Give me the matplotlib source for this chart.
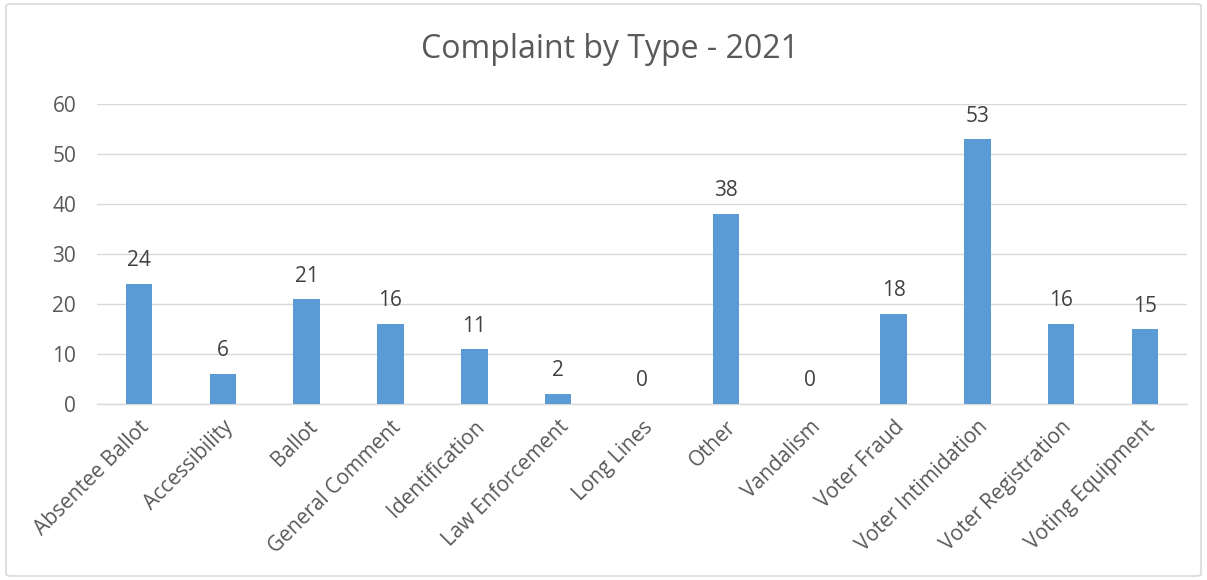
import matplotlib.pyplot as plt
from matplotlib.patches import FancyBboxPatch

categories = ["Absentee Ballot", "Accessibility", "Ballot", "General Comment",
              "Identification", "Law Enforcement", "Long Lines", "Other",
              "Vandalism", "Voter Fraud", "Voter Intimidation",
              "Voter Registration", "Voting Equipment"]
counts = [24, 6, 21, 16, 11, 2, 0, 38, 0, 18, 53, 16, 15]
y_ticks = [0, 10, 20, 30, 40, 50, 60]

plt.rcParams['font.family'] = ['Open Sans', 'DejaVu Sans']
text_color = '#595959'

fig = plt.figure(figsize=(12.07, 5.80), dpi=100)
ax = fig.add_axes([97 / 1207, 1 - 404 / 580, 1090 / 1207, 300 / 580])

# chart border
fig.patches.append(FancyBboxPatch((6 / 1207, 4 / 580), 1195 / 1207, 572 / 580,
                                  boxstyle="round,pad=0,rounding_size=0.004",
                                  transform=fig.transFigure, facecolor='none',
                                  edgecolor='#D9D9D9', linewidth=1.2))

x = range(len(categories))
bars = ax.bar(x, counts, width=0.315, color='#5B9BD5', zorder=3)

for xi, v in zip(x, counts):
    ax.annotate(str(v), (xi, v), textcoords="offset points", xytext=(0, 9),
                ha='center', va='bottom', fontsize=15, color='#404040')

ax.set_xlim(-0.5, len(categories) - 0.5)
ax.set_ylim(0, 60)
ax.set_yticks(y_ticks)
ax.set_xticks(list(x))
ax.set_xticklabels(categories, rotation=45, ha='right', rotation_mode='anchor',
                   fontsize=15, color=text_color)
ax.tick_params(axis='y', labelsize=15, labelcolor=text_color, length=0, pad=15)
ax.tick_params(axis='x', length=0, pad=9)
ax.grid(axis='y', color='#D9D9D9', linewidth=1, zorder=0)

for side in ['top', 'right', 'left']:
    ax.spines[side].set_visible(False)
ax.spines['bottom'].set_color('#D9D9D9')
ax.spines['bottom'].set_linewidth(1)

fig.text(0.505, 1 - 50 / 580, 'Complaint by Type - 2021', ha='center', va='center',
         fontsize=23, color=text_color)

fig.savefig('out.png', dpi=100)
